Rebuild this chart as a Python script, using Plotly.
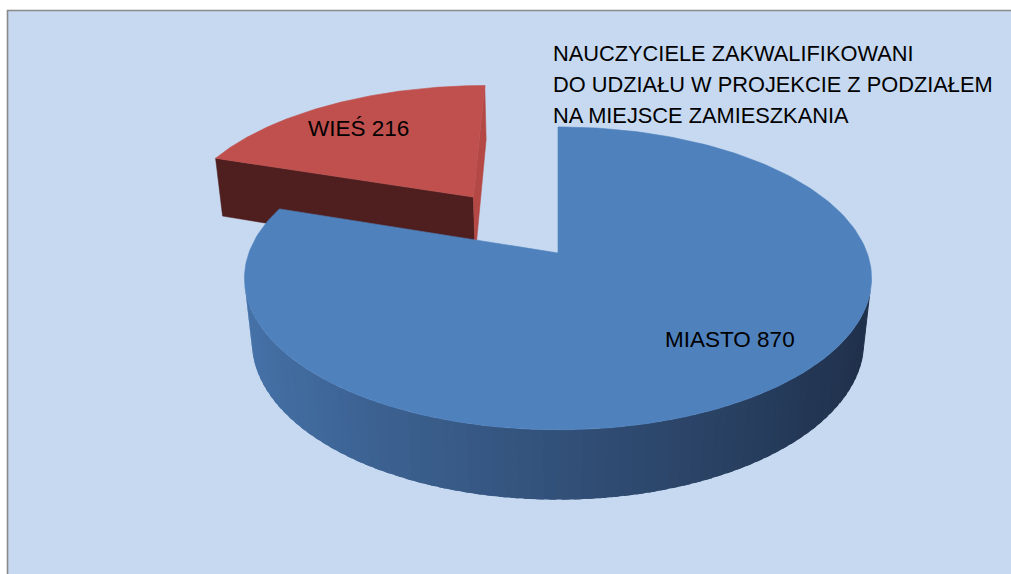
import numpy as np
import plotly.graph_objects as go

# ---------------- data ----------------
labels = ["MIASTO", "WIEŚ"]
values = [870, 216]
pulls = [0.0, 0.5]
title_lines = [
    "NAUCZYCIELE ZAKWALIFIKOWANI",
    "DO UDZIAŁU W PROJEKCIE Z PODZIAŁEM",
    "NA MIEJSCE ZAMIESZKANIA",
]

# ---------------- style ----------------
top_colors = ["#4F81BD", "#C0504D"]
side_light = [(70, 115, 170), (79, 30, 30)]
side_dark = [(30, 46, 72), (79, 30, 30)]
edge_face_colors = [(60, 98, 146), (180, 72, 69)]
BG = "#C6D9F1"
FONT = "Liberation Sans"

# ---------------- 3D projection (perspective) ----------------
SIN_A = 0.51
COS_A = np.sqrt(1 - SIN_A ** 2)
DIST = 5.26
H = 0.235
FOC = 1589.0
CX, CY = 558.0, 315.5
CAM = np.array([0.0, -DIST * COS_A, DIST * SIN_A])


def proj(X, Y, Z):
    X = np.asarray(X, float)
    Y = np.asarray(Y, float)
    Z = np.asarray(Z, float) + 0 * X
    w = DIST + Y * COS_A - Z * SIN_A
    v = Y * SIN_A + Z * COS_A
    return CX + FOC * X / w, CY - FOC * v / w


def rgb(c):
    return "rgb(%d,%d,%d)" % tuple(int(round(x)) for x in c)


def poly(fig, xs, ys, color, lw=0.0):
    fig.add_trace(go.Scatter(
        x=list(xs) + [xs[0]], y=list(ys) + [ys[0]], mode="lines", fill="toself",
        fillcolor=color, line=dict(color=color, width=lw),
        hoverinfo="skip", showlegend=False))


total = float(sum(values))
slices = []
start = 0.0
for i, val in enumerate(values):
    span = 360.0 * val / total
    a0, a1 = np.radians(start), np.radians(start + span)
    am = 0.5 * (a0 + a1)
    ox, oy = pulls[i] * np.sin(am), pulls[i] * np.cos(am)
    slices.append(dict(i=i, a0=a0, a1=a1, ox=ox, oy=oy, depth=oy))
    start += span

fig = go.Figure()

# draw far slices first
for s in sorted(slices, key=lambda d: -d["depth"]):
    i, a0, a1, ox, oy = s["i"], s["a0"], s["a1"], s["ox"], s["oy"]
    P = np.array([ox, oy, 0.0])
    # radial faces
    for ang, sign in ((a0, -1), (a1, 1)):
        n = np.array([sign * np.cos(ang), -sign * np.sin(ang), 0.0])
        if np.dot(n, CAM - P) > 1e-6:
            Xs = [ox, ox + np.sin(ang), ox + np.sin(ang), ox]
            Ys = [oy, oy + np.cos(ang), oy + np.cos(ang), oy]
            Zs = [H, H, 0, 0]
            px, py = proj(Xs, Ys, Zs)
            col = side_dark[i] if sign < 0 else edge_face_colors[i]
            poly(fig, px, py, rgb(col), lw=0.5)
    # outer curved side (overlapping strips, no seams)
    nseg = max(8, int(np.degrees(a1 - a0) / 2))
    angs = np.linspace(a0, a1, nseg + 1)
    step = angs[1] - angs[0]
    for k in range(nseg):
        b0 = angs[k]
        b1 = min(angs[k + 1] + 0.6 * step, a1)
        bm = 0.5 * (angs[k] + angs[k + 1])
        n = np.array([np.sin(bm), np.cos(bm), 0.0])
        Pm = P + n
        if np.dot(n, CAM - Pm) <= 0:
            continue
        t = (np.sin(bm) + 1) / 2
        col = np.array(side_light[i]) * (1 - t) + np.array(side_dark[i]) * t
        bb = np.linspace(b0, b1, 4)
        Xs = np.concatenate([ox + np.sin(bb), ox + np.sin(bb[::-1])])
        Ys = np.concatenate([oy + np.cos(bb), oy + np.cos(bb[::-1])])
        Zs = np.concatenate([np.full(4, H), np.zeros(4)])
        px, py = proj(Xs, Ys, Zs)
        poly(fig, px, py, rgb(col))
    # top face
    arc = np.linspace(a0, a1, 240)
    Xs = np.concatenate([[ox], ox + np.sin(arc)])
    Ys = np.concatenate([[oy], oy + np.cos(arc)])
    px, py = proj(Xs, Ys, H)
    poly(fig, px, py, top_colors[i], lw=0.6)

# ---------------- text ----------------
label_pos = {"MIASTO": (730, 339), "WIEŚ": (358, 128)}
for lab, val in zip(labels, values):
    x, y = label_pos[lab]
    fig.add_annotation(x=x, y=y, text=f"{lab} {val}", showarrow=False,
                       xanchor="center", yanchor="middle",
                       font=dict(family=FONT, size=22.5, color="black"))

for k, line in enumerate(title_lines):
    fig.add_annotation(x=551, y=53 + 31 * k, text=line, showarrow=False,
                       xanchor="left", yanchor="middle",
                       font=dict(family=FONT, size=21.8, color="black"))

fig.add_shape(type="rect", x0=7.5, y0=10.5, x1=1030, y1=600, layer="below",
              fillcolor=BG, line=dict(color="#8A8A8A", width=1.6))

fig.update_layout(
    width=1011, height=574, margin=dict(l=0, r=0, t=0, b=0),
    paper_bgcolor="white", plot_bgcolor="white", showlegend=False,
    xaxis=dict(range=[0, 1011], visible=False, fixedrange=True),
    yaxis=dict(range=[574, 0], visible=False, fixedrange=True),
)

fig.write_html("out.html")
